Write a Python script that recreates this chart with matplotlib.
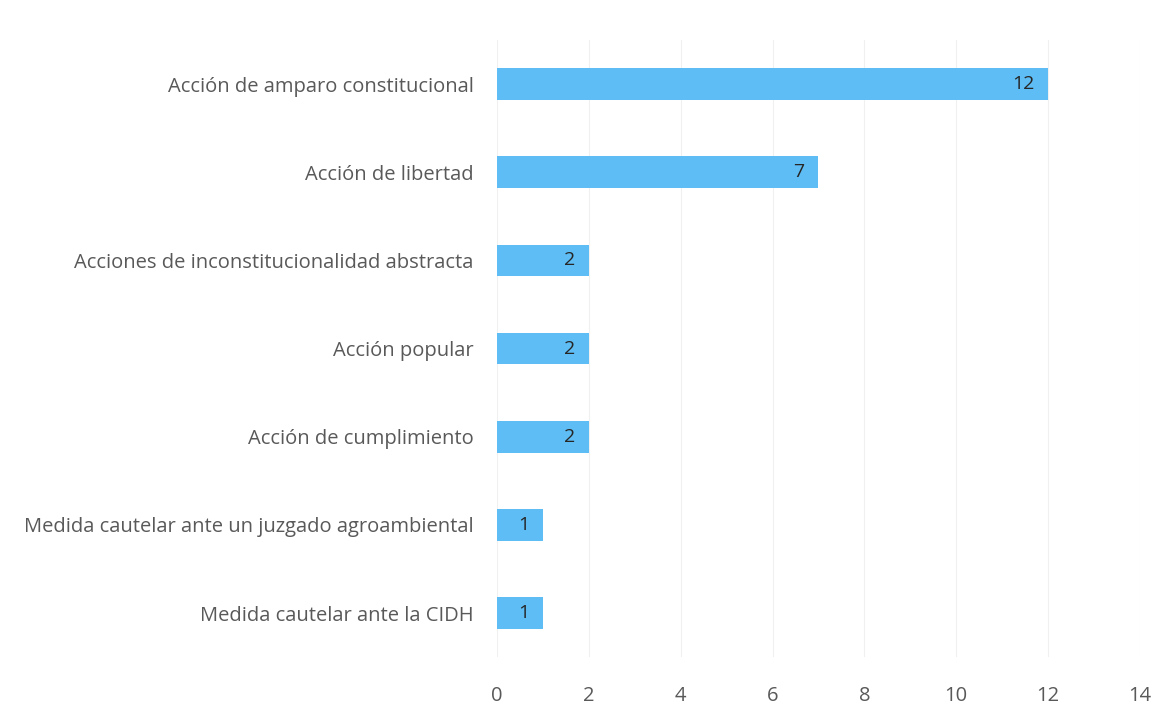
import matplotlib.pyplot as plt

categorias = [
    "Acción de amparo constitucional",
    "Acción de libertad",
    "Acciones de inconstitucionalidad abstracta",
    "Acción popular",
    "Acción de cumplimiento",
    "Medida cautelar ante un juzgado agroambiental",
    "Medida cautelar ante la CIDH",
]
valores = [12, 7, 2, 2, 2, 1, 1]
ticks_x = [0, 2, 4, 6, 8, 10, 12, 14]

plt.rcParams['font.family'] = ['Open Sans', 'DejaVu Sans']

fig = plt.figure(figsize=(11.54, 7.15), dpi=100)
ax = fig.add_axes([0.4307, 0.081, 0.557, 0.863])

pos = list(range(len(categorias)))
barras = ax.barh(pos, valores, height=0.36, color='#5DBDF4')
ax.set_ylim(6.5, -0.5)
ax.set_xlim(0, 14)
ax.set_xticks(ticks_x)
ax.set_yticks(pos)
ax.set_yticklabels(categorias)

for b, v in zip(barras, valores):
    ax.annotate(str(v), (b.get_width(), b.get_y() + b.get_height() / 2),
                xytext=(-10, 0), textcoords='offset points',
                ha='right', va='center', fontsize=14, color='#262626')

ax.grid(axis='x', color='#f0f0f0', linewidth=0.8)
ax.set_axisbelow(True)
for s in ax.spines.values():
    s.set_visible(False)
ax.tick_params(axis='both', length=0, labelsize=14.5, colors='#595959')
ax.tick_params(axis='y', pad=17)
ax.tick_params(axis='x', pad=21)

fig.savefig('out.png', dpi=100)
